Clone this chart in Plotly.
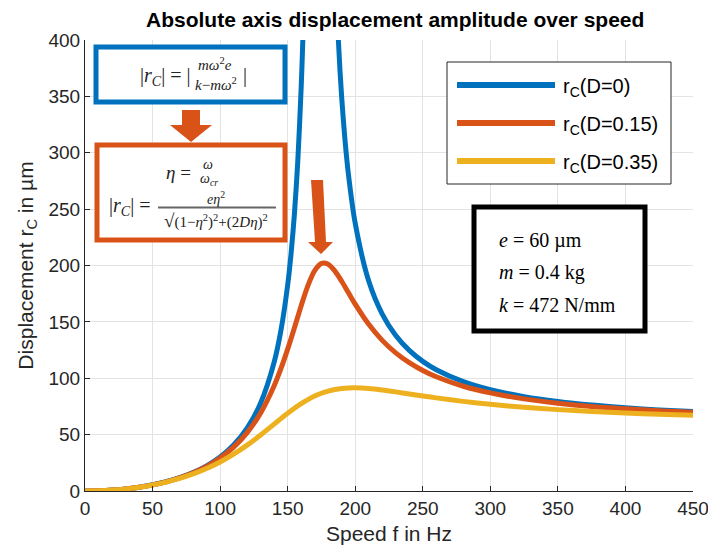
import plotly.graph_objects as go

# ---------------- data ----------------
speed_hz = [0, 10, 20, 30, 40, 50, 60, 70, 80, 90, 100, 110, 120, 130, 140, 145,
            150, 155, 160, 165, 170, 175, 180, 185, 190, 195, 200, 210, 220, 230,
            240, 250, 260, 280, 300, 325, 350, 375, 400, 425, 450]

r_d015 = [0, 0.20, 0.81, 1.86, 3.38, 5.45, 8.16, 11.64, 16.10, 21.81, 29.19, 38.86,
          51.75, 69.28, 93.37, 108.5, 125.8, 144.8, 164.4, 182.2, 195.4, 201.8,
          201.1, 195.0, 186.0, 175.8, 165.7, 147.8, 133.6, 122.5, 113.8, 106.9,
          101.3, 92.9, 87.0, 81.7, 77.9, 75.0, 72.9, 71.1, 69.8]

r_d035 = [0, 0.20, 0.81, 1.85, 3.34, 5.35, 7.92, 11.14, 15.11, 19.95, 25.77, 32.67,
          40.69, 49.70, 59.32, 64.16, 68.88, 73.34, 77.44, 81.08, 84.18, 86.71,
          88.65, 90.05, 90.94, 91.40, 91.50, 90.87, 89.56, 87.89, 86.09, 84.30,
          82.59, 79.50, 76.90, 74.26, 72.17, 70.50, 69.15, 68.05, 67.13]

speed_hz_undamped = [0, 10, 20, 30, 40, 50, 60, 70, 80, 90, 100, 110, 120, 130, 140,
                     145, 150, 152.5, 155, 157.5, 160, 161, 162.5, 165, 170, 175, 180,
                     184, 187.5, 190, 192.5, 195, 200, 210, 220, 230, 240, 250, 260,
                     280, 300, 325, 350, 375, 400, 425, 450]

r_d0 = [0, 0.20, 0.81, 1.86, 3.39, 5.48, 8.22, 11.76, 16.35, 22.30, 30.16, 40.81,
        55.77, 78.05, 114.3, 142.3, 182.7, 210.3, 245.7, 292.7, 358.0, 391.8, 454.7,
        612.7, 1750, 2503, 774.8, 512.3, 400.6, 348.8, 310.3, 280.5, 237.4, 186.2,
        156.9, 137.9, 124.7, 115.0, 107.6, 97.0, 89.8, 83.7, 79.4, 76.2, 73.8, 71.9,
        70.4]

series_names = ["r<sub>C</sub>(D=0)", "r<sub>C</sub>(D=0.15)", "r<sub>C</sub>(D=0.35)"]
series_colors = ["#0072BD", "#D95319", "#EDB120"]

x_ticks = list(range(0, 451, 50))
y_ticks = list(range(0, 401, 50))

param_lines = ["<i>e</i> = 60 µm", "<i>m</i> = 0.4 kg", "<i>k</i> = 472 N/mm"]

# ---------------- layout helpers ----------------
W, H = 708, 547
L, R, T, B = 85, 693, 40, 491


def px(x):
    return (x - L) / (R - L)


def py(y):
    return (B - y) / (B - T)


SANS = "Liberation Sans, Arial, Helvetica, sans-serif"
SERIF = "Liberation Serif, DejaVu Serif, serif"
TXT = "#262626"

fig = go.Figure()
for xs, ys, name, col in zip([speed_hz_undamped, speed_hz, speed_hz],
                             [r_d0, r_d015, r_d035], series_names, series_colors):
    fig.add_trace(go.Scatter(x=xs, y=ys, mode="lines", name=name,
                             line=dict(color=col, width=5, shape="spline", smoothing=0.8),
                             showlegend=False))

shapes = []
annotations = []

# title
annotations.append(dict(text="<b>Absolute axis displacement amplitude over speed</b>",
                        x=px(395), y=py(20), xref="paper", yref="paper",
                        showarrow=False, font=dict(family=SANS, size=21, color="#000"),
                        xanchor="center", yanchor="middle"))

# legend (manual)
shapes.append(dict(type="rect", xref="paper", yref="paper", x0=px(447), x1=px(671),
                   y0=py(62), y1=py(184), line=dict(color=TXT, width=1),
                   fillcolor="white", layer="above"))
for i, (name, col) in enumerate(zip(series_names, series_colors)):
    yy = [85, 123, 161][i]
    shapes.append(dict(type="line", xref="paper", yref="paper", x0=px(457), x1=px(555),
                       y0=py(yy), y1=py(yy), line=dict(color=col, width=6), layer="above"))
    annotations.append(dict(text=name, x=px(561), y=py(yy + 2), xref="paper", yref="paper",
                            showarrow=False, xanchor="left", yanchor="middle",
                            font=dict(family=SANS, size=20, color="#000")))

# parameter box
shapes.append(dict(type="rect", xref="paper", yref="paper", x0=px(474), x1=px(645),
                   y0=py(207), y1=py(331), line=dict(color="#000", width=5),
                   fillcolor="white", layer="above"))
for i, t in enumerate(param_lines):
    annotations.append(dict(text=t, x=px(497), y=py([240, 272, 305][i]), xref="paper",
                            yref="paper", showarrow=False, xanchor="left", yanchor="middle",
                            font=dict(family=SERIF, size=20, color="#000")))

# formula box 1 (blue)
shapes.append(dict(type="rect", xref="paper", yref="paper", x0=px(96), x1=px(285),
                   y0=py(47), y1=py(102), line=dict(color="#0072BD", width=5),
                   fillcolor="white", layer="above"))
FC = "#222"
annotations += [
    dict(text="|<i>r</i><sub><i>C</i></sub>| = |", x=px(192), y=py(76), xanchor="right", size=20),
    dict(text="<i>mω</i><sup>2</sup><i>e</i>", x=px(215), y=py(64), xanchor="center", size=15),
    dict(text="<i>k</i>−<i>mω</i><sup>2</sup>", x=px(216), y=py(84), xanchor="center", size=15),
    dict(text="|", x=px(241), y=py(75), xanchor="left", size=20),
]

# formula box 2 (orange)
shapes.append(dict(type="rect", xref="paper", yref="paper", x0=px(97), x1=px(285),
                   y0=py(145), y1=py(240), line=dict(color="#D95319", width=5),
                   fillcolor="white", layer="above"))
annotations += [
    dict(text="<i>η</i> =", x=px(193), y=py(172), xanchor="right", size=19),
    dict(text="<i>ω</i>", x=px(208), y=py(164), xanchor="center", size=14),
    dict(text="<i>ω</i><sub><i>cr</i></sub>", x=px(209), y=py(179), xanchor="center", size=14),
    dict(text="|<i>r</i><sub><i>C</i></sub>| =", x=px(152), y=py(206), xanchor="right", size=20),
    dict(text="<i>eη</i><sup>2</sup>", x=px(216), y=py(198), xanchor="center", size=14),
    dict(text="√<span style='font-size:15px'>(1−<i>η</i><sup>2</sup>)<sup>2</sup>+(2<i>Dη</i>)<sup>2</sup></span>",
         x=px(216), y=py(220), xanchor="center", size=19),
]
shapes.append(dict(type="line", xref="paper", yref="paper", x0=px(158), x1=px(276),
                   y0=py(207.5), y1=py(207.5), line=dict(color="#666", width=2), layer="above"))

for a in annotations:
    if "xref" not in a:
        size = a.pop("size", 16)
        a.update(xref="paper", yref="paper", showarrow=False, yanchor="middle",
                 font=dict(family=SERIF, size=size, color=FC))


# arrows
def path(pts):
    return "M " + " L ".join(f"{px(x)},{py(y)}" for x, y in pts) + " Z"


shapes.append(dict(type="path", xref="paper", yref="paper",
                   path=path([(182, 110), (200, 110), (200, 125), (212, 125), (191, 142),
                              (170, 125), (182, 125)]),
                   fillcolor="#D95319", line=dict(width=0), layer="above"))
shapes.append(dict(type="path", xref="paper", yref="paper",
                   path=path([(311, 180), (323, 180), (326, 242), (333, 242), (321, 254),
                              (308, 242), (315, 242)]),
                   fillcolor="#D95319", line=dict(width=0), layer="above"))

axis_common = dict(showline=True, linecolor=TXT, linewidth=1, ticks="inside", ticklen=5,
                   tickcolor=TXT, showgrid=True, gridcolor="#e3e3e3", gridwidth=1,
                   zeroline=False, mirror=False, ticklabeloverflow="allow",
                   automargin=False,
                   tickfont=dict(family=SANS, size=19, color=TXT))

fig.update_layout(
    width=W, height=H, margin=dict(l=L, r=W - R, t=T, b=H - B),
    paper_bgcolor="white", plot_bgcolor="white",
    xaxis=dict(range=[0, 450], tickvals=x_ticks, **axis_common,
               title=dict(text="Speed f in Hz", font=dict(family=SANS, size=21, color=TXT),
                          standoff=8)),
    yaxis=dict(range=[0, 400], tickvals=y_ticks, **axis_common,
               title=dict(text="Displacement r<sub>C</sub> in µm",
                          font=dict(family=SANS, size=21, color=TXT), standoff=9)),
    shapes=shapes, annotations=annotations,
)

fig.write_html("out.html")
